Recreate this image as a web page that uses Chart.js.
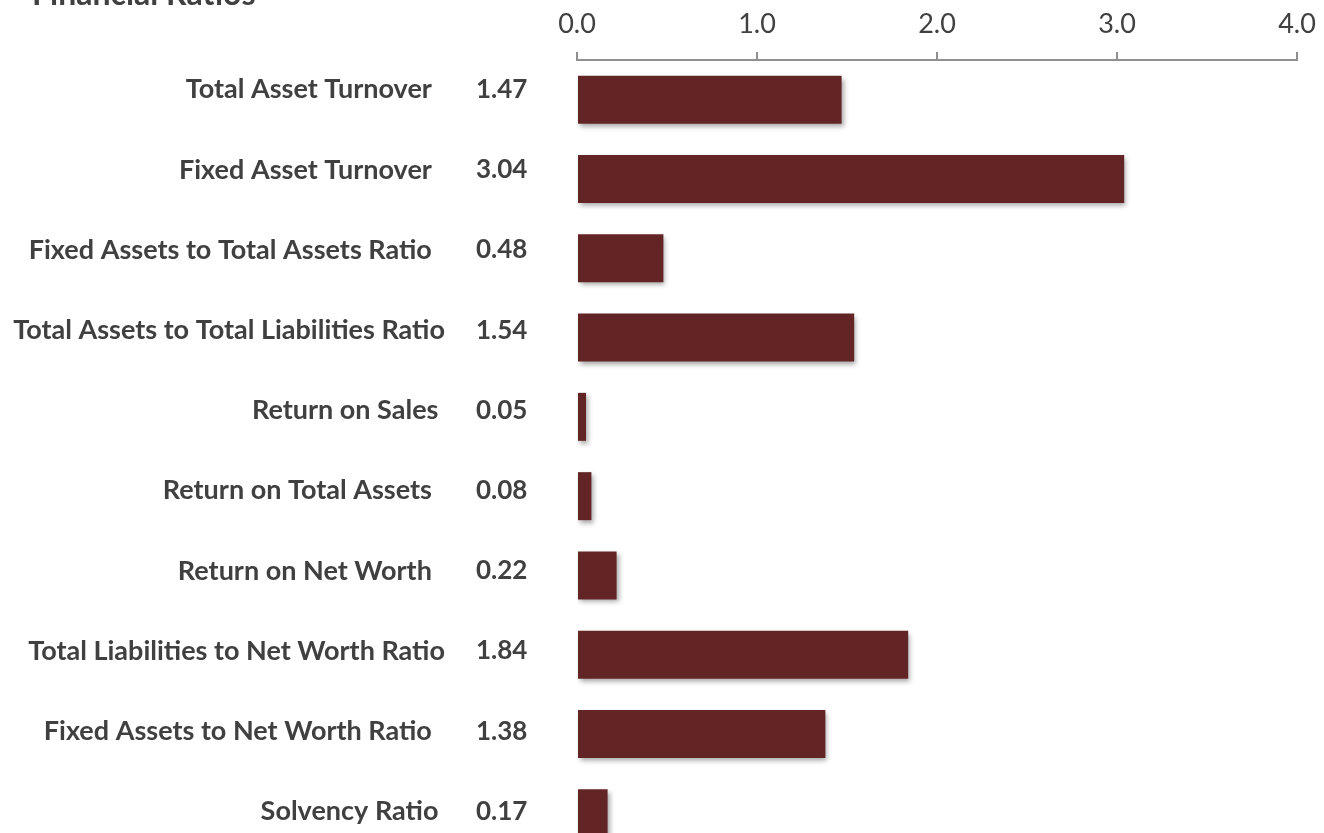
<!DOCTYPE html>
<html>
<head>
<meta charset="utf-8">
<script src="https://cdn.jsdelivr.net/npm/chart.js@4/dist/chart.umd.min.js"></script>
<style>
  html, body { margin: 0; padding: 0; background: #fff; overflow: hidden; }
  #wrap { position: relative; width: 1324px; height: 880px; }
</style>
</head>
<body>
<div id="wrap"><canvas id="ratios"></canvas></div>
<script>
// trailing spaces as in the source sheet labels
const categories = [
  "Total Asset Turnover  ",
  "Fixed Asset Turnover  ",
  "Fixed Assets to Total Assets Ratio  ",
  "Total Assets to Total Liabilities Ratio",
  "Return on Sales ",
  "Return on Total Assets  ",
  "Return on Net Worth  ",
  "Total Liabilities to Net Worth Ratio",
  "Fixed Assets to Net Worth Ratio  ",
  "Solvency Ratio ",
];
const ratioValues = [1.47, 3.04, 0.48, 1.54, 0.05, 0.08, 0.22, 1.84, 1.38, 0.17];
const xTicks = [0, 1, 2, 3, 4];
const chartTitle = "Financial Ratios";

const textColor = "#404040";
const barColor = "#622424";

// drop shadow under the bars
const barShadow = {
  id: "barShadow",
  beforeDatasetsDraw(chart) {
    const ctx = chart.ctx;
    ctx.save();
    ctx.shadowColor = "rgba(0,0,0,0.35)";
    ctx.shadowBlur = 5;
    ctx.shadowOffsetX = 2;
    ctx.shadowOffsetY = 3;
  },
  afterDatasetsDraw(chart) {
    chart.ctx.restore();
  },
};

// title + category names + value column
const sideText = {
  id: "sideText",
  afterDraw(chart) {
    const ctx = chart.ctx;
    const y = chart.scales.y;
    ctx.save();
    ctx.fillStyle = textColor;
    ctx.font = "bold 32px Lato";
    ctx.textAlign = "left";
    ctx.textBaseline = "alphabetic";
    ctx.fillText(chartTitle, 32, 5);

    ctx.textBaseline = "middle";
    categories.forEach((name, i) => {
      // text rows sit a little above the bar centres, less so lower down
      const py = y.getPixelForValue(i) - 10 + 0.9 * i;
      ctx.font = "bold 27px Lato";
      ctx.textAlign = "right";
      ctx.fillText(name, 445, py);
      ctx.font = "bold 26px Lato";
      ctx.textAlign = "left";
      ctx.fillText(ratioValues[i].toFixed(2), 476, py);
    });
    ctx.restore();
  },
};

new Chart(document.getElementById("ratios"), {
  type: "bar",
  data: {
    labels: categories,
    datasets: [
      {
        data: ratioValues,
        backgroundColor: barColor,
        borderWidth: 0,
        barPercentage: 0.605,
        categoryPercentage: 1,
      },
    ],
  },
  options: {
    indexAxis: "y",
    responsive: true,
    maintainAspectRatio: false,
    animation: false,
    layout: { padding: { top: 0, right: 27, bottom: 27, left: 0 } },
    plugins: {
      legend: { display: false },
      tooltip: { enabled: false },
    },
    scales: {
      x: {
        position: "top",
        min: 0,
        max: 4,
        afterBuildTicks(scale) {
          scale.ticks = xTicks.map((v) => ({ value: v }));
        },
        afterFit(scale) {
          scale.height = 60;
          scale.paddingLeft = 0;
          scale.paddingRight = 0;
        },
        ticks: {
          color: textColor,
          font: { family: "Lato", size: 27 },
          padding: 12,
          maxRotation: 0,
          callback: (v) => Number(v).toFixed(1),
        },
        grid: {
          drawOnChartArea: false,
          drawTicks: true,
          tickLength: 8,
          color: "#8f8f8f",
          lineWidth: 2,
        },
        border: { display: true, color: "#8f8f8f", width: 2 },
      },
      y: {
        afterFit(scale) {
          scale.width = 577;
        },
        ticks: { display: false },
        grid: { display: false, drawTicks: false },
        border: { display: false },
      },
    },
  },
  plugins: [barShadow, sideText],
});
</script>
</body>
</html>
